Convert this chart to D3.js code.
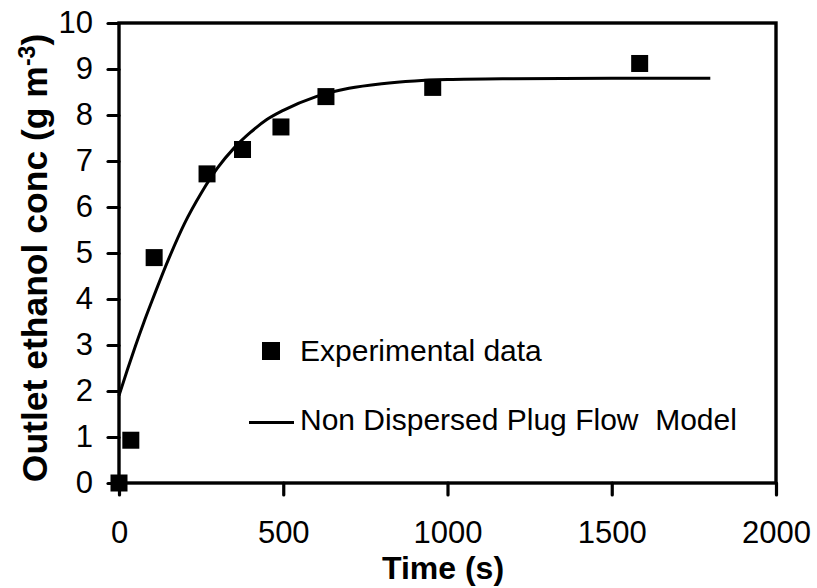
<!DOCTYPE html>
<html>
<head>
<meta charset="utf-8">
<script src="https://cdn.jsdelivr.net/npm/d3@7"></script>
<style>
  html, body { margin: 0; padding: 0; background: #fff; }
  svg { display: block; font-family: "Liberation Sans", Arial, sans-serif; }
</style>
</head>
<body>
<svg id="chart" width="817" height="588"></svg>
<script>
// Measured outlet ethanol concentration over time
const expTime = [0, 36, 107, 268, 376, 493, 630, 955, 1585];
const expConc = [0, 0.93, 4.9, 6.72, 7.25, 7.74, 8.4, 8.6, 9.12];

// Non-dispersed plug flow model prediction
const modelTime = [0, 25, 50, 75, 100, 150, 200, 250, 300, 350, 400, 450, 500, 600, 700, 800, 900, 1000, 1200, 1500, 1800];
const modelConc = [1.9, 2.45, 2.98, 3.48, 3.95, 4.85, 5.65, 6.3, 6.85, 7.28, 7.62, 7.9, 8.1, 8.4, 8.58, 8.68, 8.74, 8.77, 8.79, 8.8, 8.8];

const xTicks = [0, 500, 1000, 1500, 2000];
const yTicks = [0, 1, 2, 3, 4, 5, 6, 7, 8, 9, 10];

const plotLeft = 119, plotRight = 776, plotTop = 23, plotBottom = 483;

const svg = d3.select("#chart");
const x = d3.scaleLinear().domain([0, 2000]).range([plotLeft, plotRight]);
const y = d3.scaleLinear().domain([0, 10]).range([plotBottom, plotTop]);

// Model curve
svg.append("path")
  .datum(modelTime.map((t, i) => [t, modelConc[i]]))
  .attr("fill", "none")
  .attr("stroke", "#000")
  .attr("stroke-width", 3)
  .attr("d", d3.line().x(d => x(d[0])).y(d => y(d[1])).curve(d3.curveMonotoneX));

// Axes
const xAxis = svg.append("g")
  .attr("transform", `translate(0,${plotBottom})`)
  .call(d3.axisBottom(x).tickValues(xTicks).tickSize(12).tickSizeOuter(0).tickPadding(26).tickFormat(d3.format("d")));
const yAxis = svg.append("g")
  .attr("transform", `translate(${plotLeft},0)`)
  .call(d3.axisLeft(y).tickValues(yTicks).tickSize(11).tickSizeOuter(0).tickPadding(15).tickFormat(d3.format("d")));

[xAxis, yAxis].forEach(g => {
  g.select(".domain").remove();
  g.selectAll(".tick line").attr("stroke", "#000").attr("stroke-width", 3.2).attr("stroke-linecap", "round");
  g.selectAll(".tick text").attr("fill", "#000").style("font-size", "31px").style("font-family", "'Liberation Sans', Arial, sans-serif");
});

// Plot frame
svg.append("rect")
  .attr("x", plotLeft).attr("y", plotTop)
  .attr("width", plotRight - plotLeft).attr("height", plotBottom - plotTop)
  .attr("fill", "none").attr("stroke", "#000").attr("stroke-width", 3.4);

// Experimental points
const sq = 17;
svg.append("g").selectAll("rect")
  .data(expTime.map((t, i) => [t, expConc[i]]))
  .join("rect")
  .attr("x", d => x(d[0]) - sq / 2)
  .attr("y", d => y(d[1]) - sq / 2)
  .attr("width", sq).attr("height", sq)
  .attr("fill", "#000");

// Legend
const leg = svg.append("g").style("font-size", "30px");
leg.append("rect").attr("x", 262).attr("y", 342).attr("width", 18).attr("height", 18).attr("fill", "#000");
leg.append("text").attr("x", 300).attr("y", 361).text("Experimental data");
leg.append("line").attr("x1", 249).attr("x2", 294).attr("y1", 422.5).attr("y2", 422.5)
  .attr("stroke", "#000").attr("stroke-width", 3);
leg.append("text").attr("x", 300).attr("y", 429.5)
  .attr("xml:space", "preserve").style("white-space", "pre")
  .text("Non Dispersed Plug Flow  Model");

// Axis titles
svg.append("text")
  .attr("x", 443).attr("y", 579)
  .attr("text-anchor", "middle")
  .style("font-size", "32px").style("font-weight", "bold")
  .text("Time (s)");

const yt = svg.append("text")
  .attr("transform", "translate(47,258) rotate(-90)")
  .attr("text-anchor", "middle")
  .style("font-size", "35.5px").style("font-weight", "bold");
yt.append("tspan").text("Outlet ethanol conc (g m");
yt.append("tspan").attr("dy", -12).style("font-size", "23px").text("-3");
yt.append("tspan").attr("dy", 12).text(")");
</script>
</body>
</html>
